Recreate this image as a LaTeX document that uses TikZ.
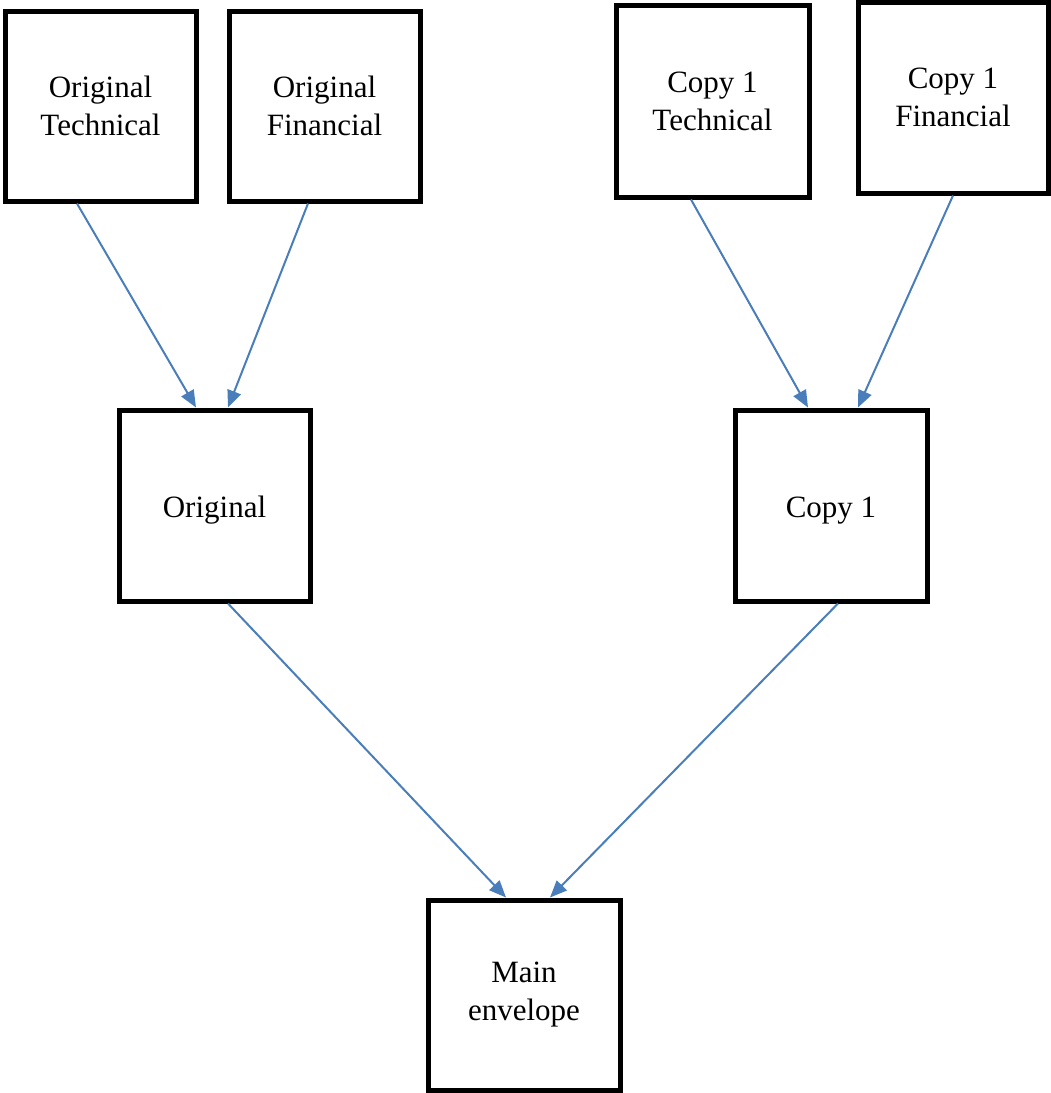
\documentclass[tikz,border=0pt]{standalone}
\usepackage{fontspec}
\setmainfont{Liberation Serif}
\usetikzlibrary{arrows.meta}
\definecolor{arrowblue}{HTML}{4A7EBB}
\begin{document}
\begin{tikzpicture}[x=1pt,y=-1pt,
  box/.style={draw=black,line width=5pt,rectangle,align=center,inner sep=0pt,
    font=\fontsize{31}{38}\selectfont,
    execute at begin node={\rule{0pt}{30pt}}},
  arr/.style={draw=arrowblue,line width=2pt,-{Triangle[length=17pt,width=14pt]}}]
\useasboundingbox (0,0) rectangle (1051,1093);
\node[box,minimum width=191pt,minimum height=190pt] (ot) at (100.5,106) {Original\\Technical};
\node[box,minimum width=191pt,minimum height=190pt] (of) at (324.5,106) {Original\\Financial};
\node[box,minimum width=193pt,minimum height=192pt] (ct) at (712.5,101) {Copy 1\\Technical};
\node[box,minimum width=190pt,minimum height=191pt] (cf) at (953,97.5) {Copy 1\\Financial};
\node[box,minimum width=191pt,minimum height=191pt] (o) at (214.5,505.5) {Original};
\node[box,minimum width=192pt,minimum height=191pt] (c) at (831,505.5) {Copy 1};
\node[box,minimum width=192pt,minimum height=190pt] (m) at (524,995) {Main\\envelope};
\draw[arr] ([xshift=-23.5pt]ot.south) -- ([xshift=-18.5pt]o.north);
\draw[arr] ([xshift=-16.5pt]of.south) -- ([xshift=13.5pt]o.north);
\draw[arr] ([xshift=-21.5pt]ct.south) -- ([xshift=-23pt]c.north);
\draw[arr] (cf.south) -- ([xshift=27pt]c.north);
\draw[arr] ([xshift=13.5pt]o.south) -- ([xshift=-18pt]m.north);
\draw[arr] ([xshift=7pt]c.south) -- ([xshift=26pt]m.north);
\end{tikzpicture}
\end{document}
